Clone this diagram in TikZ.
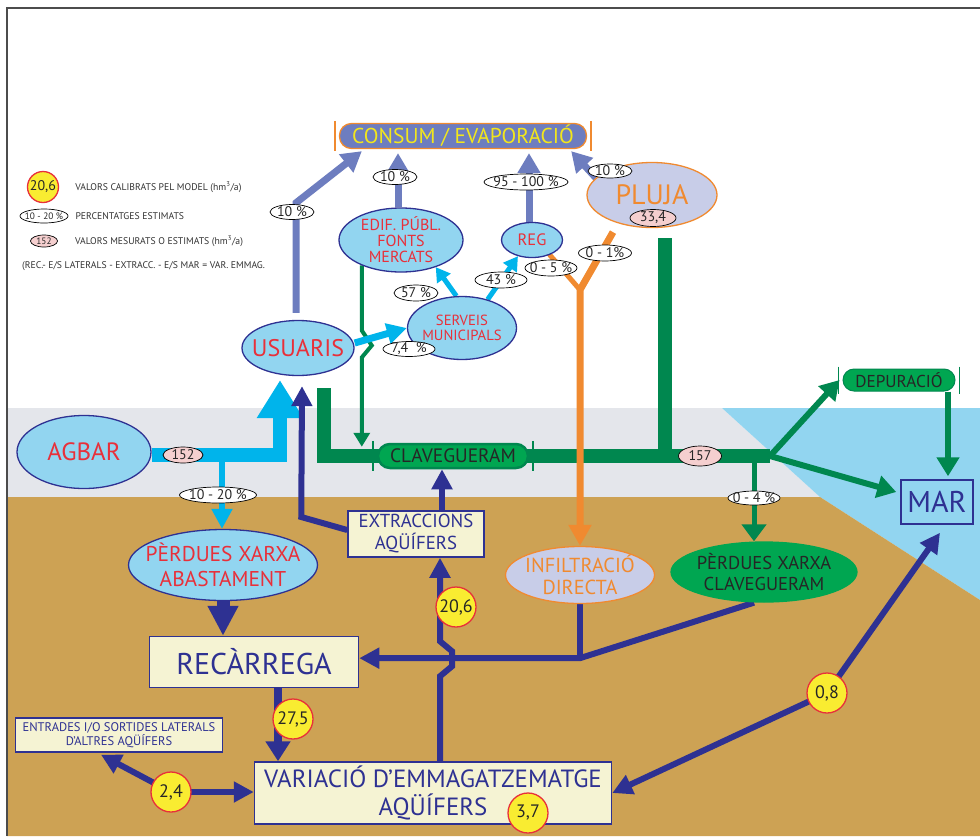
\documentclass[tikz,border=0pt]{standalone}
\usepackage{fontspec}
\setmainfont{PT Sans}
\usetikzlibrary{arrows.meta,shapes.geometric,positioning,calc}
\pgfdeclarelayer{background}
\pgfdeclarelayer{foreground}
\pgfsetlayers{background,main,foreground}

\definecolor{slate}{HTML}{6D7DBF}
\definecolor{navy}{HTML}{2E3192}
\definecolor{cyanc}{HTML}{00B4EB}
\definecolor{skyfill}{HTML}{92D5F0}
\definecolor{redtxt}{HTML}{E8303A}
\definecolor{dgreen}{HTML}{00874F}
\definecolor{lgreen}{HTML}{00A651}
\definecolor{orng}{HTML}{F08A30}
\definecolor{lavender}{HTML}{C8CDE8}
\definecolor{pinklbl}{HTML}{F5CFCF}
\definecolor{yellowc}{HTML}{F9EC31}
\definecolor{cream}{HTML}{F5F3D3}
\definecolor{ground}{HTML}{CDA254}
\definecolor{street}{HTML}{E4E6EB}
\definecolor{sea}{HTML}{92D5F0}
\definecolor{yellowtxt}{HTML}{F2E61C}

\newcommand{\fsize}[2]{\fontsize{#1}{#2}\selectfont}
\tikzset{sz/.style 2 args={minimum width=#1pt, minimum height=#2pt},
  pill/.style 2 args={rectangle, rounded corners=#2, inner sep=-100pt,
    append after command={
      ([xshift=-4pt,yshift=2pt]\tikzlastnode.north west) edge[draw=#1, line width=1.8pt, -] ([xshift=-4pt,yshift=-2pt]\tikzlastnode.south west)
      ([xshift=4pt,yshift=2pt]\tikzlastnode.north east) edge[draw=#1, line width=1.8pt, -] ([xshift=4pt,yshift=-2pt]\tikzlastnode.south east)}}}

\begin{document}
\begin{tikzpicture}[x=1pt,y=-1pt]

\tikzstyle{ell}=[ellipse, inner sep=-100pt, align=center, fill=skyfill, draw=navy, line width=1.3pt, text=redtxt]
\tikzstyle{rainell}=[ellipse, inner sep=-100pt, align=center, fill=lavender, draw=orng, line width=1.3pt, text=orng]
\tikzstyle{box}=[rectangle, inner sep=-100pt, align=center, fill=cream, draw=navy, line width=1.5pt, text=navy]
\tikzstyle{pct}=[ellipse, inner sep=-100pt, fill=white, draw=black, line width=0.7pt, text=black!85, font=\fsize{14}{16}]
\tikzstyle{meas}=[pct, fill=pinklbl]
\tikzstyle{calib}=[circle, inner sep=0pt, fill=yellowc, draw=redtxt, line width=1.3pt, text=black!85, font=\fsize{18}{20}, minimum size=40pt]
\tikzstyle{legtext}=[anchor=west, inner sep=0pt, text=black!80, font=\fsize{9.7}{11}]
\tikzstyle{slateflow}=[draw=slate, line width=7pt, -{Triangle[length=20pt,width=22pt]}]
\tikzstyle{cyanflow}=[draw=cyanc, line width=6pt, -{Triangle[length=20pt,width=20pt]}]
\tikzstyle{navyflow}=[draw=navy, line width=6pt, -{Triangle[length=20pt,width=20pt]}]
\tikzstyle{greenmain}=[draw=dgreen, line width=14pt]
\tikzstyle{greenflow}=[draw=dgreen, line width=6pt, -{Triangle[length=19pt,width=22pt]}]
\tikzstyle{orangeflow}=[draw=orng, line width=7pt, -{Triangle[length=21pt,width=22pt]}]

\useasboundingbox (0,0) rectangle (980,836);

\begin{pgfonlayer}{background}
\fill[white] (0,0) rectangle (980,836);
\fill[street] (7,408) -- (722,408) -- (820,497) -- (7,497) -- cycle;
\fill[sea] (722,408) -- (980,408) -- (980,600) -- (820,497) -- cycle;
\fill[ground] (7,497) -- (820,497) -- (980,600) -- (980,836) -- (7,836) -- cycle;
\draw[black!70, line width=1.5pt] (7,836) -- (7,8) -- (980,8);
\end{pgfonlayer}

\begin{pgfonlayer}{foreground}
% legend
\node[calib, minimum size=31pt, font=\fsize{14}{16}] (leg206) at (43,187) {20,6};
\node[legtext, right=16pt of leg206] (legcal) {VALORS CALIBRATS PEL MODEL (hm\textsuperscript{3}/a)};
\node[pct, sz={48}{14}, font=\fsize{9.3}{11}] (leg1020) at (44,216) {10 - 20 \%};
\node[legtext, right=7pt of leg1020] (legpct) {PERCENTATGES ESTIMATS};
\node[meas, sz={27}{12}, font=\fsize{9.3}{11}] (leg152) at (44,241) {152};
\node[legtext, right=17pt of leg152] (legmes) {VALORS MESURATS O ESTIMATS (hm\textsuperscript{3}/a)};
\node[legtext] (legbal) at (22,266) {(REC.- E/S LATERALS - EXTRACC. - E/S MAR = VAR. EMMAG.};

% nodes
\node[pill={orng}{12pt}, sz={247}{25}, fill=slate, draw=orng, line width=1.3pt, text=yellowtxt, font=\fsize{21.5}{24}] (cons) at (463,136) {CONSUM / EVAPORACIÓ};
\node[rainell, sz={130}{65}, font=\fsize{28}{30}] (pluja) at (652,195) {PLUJA};
\node[ell, sz={124}{64}, font=\fsize{16}{16}] (edif) at (401,240) {EDIF. PÚBL.\\FONTS\\MERCATS};
\node[ell, sz={61}{35}, font=\fsize{16.5}{18}] (reg) at (532,240) {REG};
\node[ell, sz={109}{63}, font=\fsize{14.7}{15.5}] (serv) at (462,328) {SERVEIS\\MUNICIPALS};
\node[ell, sz={112}{55}, font=\fsize{24}{28}] (usu) at (298,348) {USUARIS};
\node[ell, sz={134}{73}, font=\fsize{25}{28}] (agbar) at (84,452) {AGBAR};
\node[ell, sz={189}{71}, font=\fsize{21.4}{25}] (pxa) at (223,565) {PÈRDUES XARXA\\ABASTAMENT};
\node[box, sz={209}{51}, font=\fsize{30}{32}] (rec) at (254,662) {RECÀRREGA};
\node[box, sz={136}{46}, font=\fsize{18.8}{22}] (extr) at (416,534) {EXTRACCIONS\\AQÜÍFERS};
\node[pill={dgreen}{12pt}, sz={150}{24}, fill=lgreen, draw=dgreen, line width=2.5pt, text=black!85, font=\fsize{19.4}{21}] (clav) at (453,456) {CLAVEGUERAM};
\node[rainell, sz={149}{57}, font=\fsize{20.3}{21.5}] (infil) at (580,575) {INFILTRACIÓ\\DIRECTA};
\node[ell, sz={186}{60}, fill=lgreen, draw=lgreen, text=black!85, font=\fsize{18.6}{21}] (pxc) at (764,572) {PÈRDUES XARXA\\CLAVEGUERAM};
\node[pill={dgreen}{11pt}, sz={112}{22}, fill=lgreen, draw=dgreen, line width=1pt, text=black!85, font=\fsize{17.2}{19}] (dep) at (899,380) {DEPURACIÓ};
\node[box, sz={72}{44}, fill=none, font=\fsize{30}{32}] (mar) at (937,502) {MAR};
\node[box, sz={357}{62}, font=\fsize{24.9}{28}] (var) at (433,793) {VARIACIÓ D’EMMAGATZEMATGE\\AQÜÍFERS};
\node[box, sz={207}{34}, font=\fsize{12.5}{12.5}] (ent) at (119,735) {ENTRADES I/O SORTIDES LATERALS\\D’ALTRES AQÜÍFERS};

% values
\node[calib] (c206) at (456,607) {20,6};
\node[calib] (c275) at (293,719) {27,5};
\node[calib] (c37) at (528,813) {3,7};
\node[calib] (c24) at (171,792) {2,4};
\node[calib] (c08) at (827,693) {0,8};
\node[meas, sz={46}{17}] (k334) at (653,218) {33,4};
\node[meas, sz={40}{16}] (k152) at (183,455) {152};
\node[meas, sz={43}{20}] (k157) at (700,456) {157};
\node[pct, sz={44}{15}] (pusu) at (292,212) {10 \%};
\node[pct, sz={44}{15}] (pedif) at (395,177) {10 \%};
\node[pct, sz={84}{16}] (preg) at (526,182) {95 - 100 \%};
\node[pct, sz={44}{14}] (pplu) at (610,171) {10 \%};
\node[pct, sz={52}{15}] (p74) at (409,349) {7,4\ \ \%};
\node[pct, sz={44}{16}] (p57) at (416,293) {57 \%};
\node[pct, sz={52}{16}] (p43) at (501,280) {43 \%};
\node[pct, sz={52}{16}] (p05) at (551,268) {0 - 5 \%};
\node[pct, sz={53}{16}] (p01) at (605,253) {0 - 1\%};
\node[pct, sz={77}{16}] (p1020) at (218,495) {10 - 20 \%};
\node[pct, sz={52}{14}] (p04) at (754,498) {0 - 4 \%};
\end{pgfonlayer}

% sewer
\coordinate (gj) at ([xshift=317pt]clav.center);
\draw[greenmain] ([xshift=26pt,yshift=-12pt]usu.south) |- (gj);
\draw[greenmain] ([xshift=13pt,yshift=-10pt]pluja.south) -- ([xshift=13pt]pluja.south |- gj);
\draw[greenflow, line width=4pt, -{Triangle[length=14pt,width=16pt]}] (edif.-147) -- ++(0,65) -- ++(10,15) -- ++(-10,12) -- ([yshift=-4pt]edif.-147 |- clav.north);
\draw[greenflow, line width=5pt, -{Triangle[length=17pt,width=24pt]}] ([xshift=-10pt]pxc.north |- gj) -- ([xshift=-10pt]pxc.north);
\draw[greenflow] (gj) -- ([xshift=-3pt]dep.west);
\draw[greenflow] (gj) -- ([xshift=-4pt,yshift=10pt]mar.west);
\draw[greenflow] ([xshift=49pt]dep.south) -- ([xshift=49pt,yshift=3pt]dep.south |- mar.north);

% rain
\coordinate (yj) at ([yshift=256pt]infil.north);
\draw[orangeflow, line width=5pt, -, line cap=round] (reg.-40) -- (yj);
\draw[orangeflow] ([xshift=-39pt,yshift=-4pt]pluja.south) -- (yj) -- (infil.north);

% consumption
\draw[slateflow] ([xshift=-2pt,yshift=7pt]usu.north) -- ++(0,-110) -- ([xshift=23pt,yshift=-2pt]cons.south west);
\draw[slateflow] ([xshift=-3pt]edif.north) -- ([xshift=-3pt,yshift=-4pt]edif.north |- cons.south);
\draw[slateflow] ([xshift=-3pt]reg.north) -- ([xshift=-3pt,yshift=-4pt]reg.north |- cons.south);
\draw[slateflow] (pluja.163) -- ([xshift=-16pt,yshift=-2pt]cons.south east);

% supply
\draw[cyanflow, line width=14pt, -{Triangle[length=38pt,width=44pt]}] ([yshift=-3pt]agbar.east) -| ([xshift=-18pt,yshift=-4pt]usu.south);
\draw[cyanflow] ([xshift=-1pt]pxa.north |- agbar.east) -- ([xshift=-1pt]pxa.north);
\draw[cyanflow, line width=7pt] ([yshift=5pt]usu.east) -- (serv.west);
\draw[cyanflow, line width=5pt, -{Triangle[length=14pt,width=16pt]}] (serv.100) -- (edif.-38);
\draw[cyanflow, line width=5pt, -{Triangle[length=14pt,width=16pt]}] (serv.48) -- (reg.-131);

% aquifers
\draw[navyflow, line width=13pt, -{Triangle[length=30pt,width=29pt]}] (pxa.south) -- (pxa.south |- rec.north);
\draw[navyflow, line width=8pt, -{Triangle[length=20pt,width=24pt]}] ([xshift=24pt]rec.south) -- ([xshift=24pt]rec.south |- var.north);
\draw[navyflow] ([xshift=7pt]var.north) -- ++(0,-85) -- ++(12,-10) -- ++(0,-15) -- ++(-12,-10) -- ([xshift=24pt]extr.south);
\draw[navyflow] ([xshift=26pt]extr.north) -- ([xshift=26pt]extr.north |- clav.south);
\draw[navyflow] ([yshift=4pt]extr.west) -- ++(-46,-13) -- ([xshift=4pt,yshift=-10pt]usu.south);
\coordinate (jn) at ([yshift=-54pt]infil.south);
\draw[navyflow, -] (infil.south) -- (jn);
\draw[navyflow] ([xshift=-10pt]pxc.south) -- (jn) -- (jn -| rec.east);
\draw[navyflow, {Triangle[length=20pt,width=20pt]}-{Triangle[length=20pt,width=20pt]}] (var.east) -- (c08.center) -- ([xshift=3pt,yshift=-8pt]mar.south);
\draw[navyflow] (c24.center) -- ([xshift=-18pt,yshift=-2pt]ent.south);
\draw[navyflow] (c24.center) -- (c24.center -| var.west);

\end{tikzpicture}
\end{document}
